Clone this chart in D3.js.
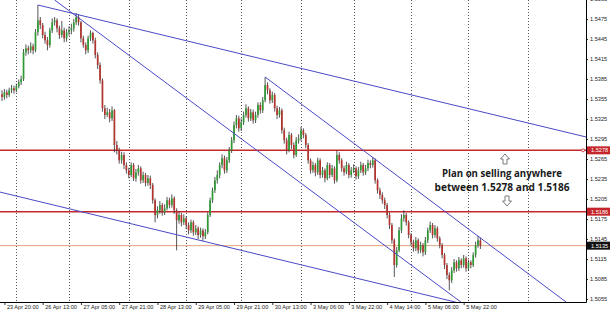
<!DOCTYPE html>
<html>
<head>
<meta charset="utf-8">
<script src="https://cdn.jsdelivr.net/npm/d3@7"></script>
<style>
  html, body { margin: 0; padding: 0; background: #fff; }
  svg { display: block; }
  .axis text { font-family: "Liberation Sans", Arial, sans-serif; font-size: 5.6px; fill: #222; }
  .note { font-family: "Open Sans", sans-serif; font-weight: 700; font-size: 10px; fill: #1a1a1a; }
</style>
</head>
<body>
<svg id="chart" width="610" height="312"></svg>
<script>
// H1 candles, bar index 0 = first bar on screen
const opens = [
  1.5362,1.5358,1.5365,1.5361,1.5368,1.5371,1.5368,1.5374,1.5380,1.5385,
  1.5425,1.5431,1.5428,1.5434,1.5428,1.5455,1.5473,1.5466,1.5451,1.5443,
  1.5436,1.5458,1.5470,1.5473,1.5461,1.5451,1.5458,1.5446,1.5455,1.5458,
  1.5461,1.5470,1.5478,1.5470,1.5446,1.5436,1.5428,1.5446,1.5454,1.5443,
  1.5421,1.5406,1.5383,1.5341,1.5331,1.5335,1.5326,1.5338,1.5286,1.5278,
  1.5263,1.5271,1.5256,1.5248,1.5241,1.5256,1.5236,1.5245,1.5251,1.5233,
  1.5241,1.5229,1.5236,1.5226,1.5203,1.5181,1.5188,1.5196,1.5185,1.5191,
  1.5203,1.5196,1.5206,1.5188,1.5173,1.5181,1.5170,1.5176,1.5166,1.5158,
  1.5170,1.5155,1.5161,1.5151,1.5158,1.5149,1.5155,1.5181,1.5203,1.5218,
  1.5233,1.5241,1.5256,1.5266,1.5248,1.5263,1.5278,1.5293,1.5316,1.5326,
  1.5311,1.5320,1.5331,1.5341,1.5326,1.5335,1.5323,1.5331,1.5346,1.5338,
  1.5353,1.5376,1.5368,1.5353,1.5361,1.5341,1.5331,1.5338,1.5308,1.5293,
  1.5278,1.5301,1.5286,1.5271,1.5293,1.5296,1.5308,1.5301,1.5286,1.5263,
  1.5248,1.5256,1.5245,1.5263,1.5241,1.5248,1.5236,1.5256,1.5241,1.5251,
  1.5233,1.5271,1.5263,1.5251,1.5245,1.5256,1.5241,1.5248,1.5251,1.5239,
  1.5248,1.5256,1.5245,1.5251,1.5259,1.5256,1.5263,1.5233,1.5218,1.5211,
  1.5203,1.5196,1.5181,1.5166,1.5143,1.5106,1.5128,1.5158,1.5176,1.5181,
  1.5170,1.5151,1.5140,1.5131,1.5143,1.5128,1.5136,1.5125,1.5143,1.5158,
  1.5166,1.5151,1.5161,1.5146,1.5136,1.5121,1.5106,1.5091,1.5083,1.5098,
  1.5110,1.5101,1.5113,1.5106,1.5116,1.5101,1.5110,1.5106,1.5121,1.5136,
  1.5143
];
const highs = [
  1.5368,1.5370,1.5369,1.5372,1.5376,1.5375,1.5378,1.5384,1.5390,1.5430,
  1.5437,1.5435,1.5440,1.5438,1.5460,1.5496,1.5478,1.5469,1.5456,1.5448,
  1.5462,1.5476,1.5478,1.5476,1.5465,1.5472,1.5462,1.5460,1.5464,1.5468,
  1.5475,1.5484,1.5482,1.5472,1.5450,1.5440,1.5450,1.5458,1.5456,1.5447,
  1.5425,1.5410,1.5386,1.5346,1.5342,1.5340,1.5344,1.5340,1.5292,1.5282,
  1.5276,1.5275,1.5260,1.5252,1.5260,1.5259,1.5250,1.5256,1.5254,1.5246,
  1.5244,1.5241,1.5240,1.5229,1.5206,1.5194,1.5202,1.5199,1.5197,1.5208,
  1.5207,1.5212,1.5209,1.5191,1.5186,1.5184,1.5182,1.5179,1.5170,1.5174,
  1.5173,1.5166,1.5164,1.5162,1.5161,1.5160,1.5185,1.5207,1.5222,1.5238,
  1.5248,1.5260,1.5272,1.5270,1.5268,1.5283,1.5298,1.5321,1.5331,1.5330,
  1.5326,1.5336,1.5347,1.5344,1.5340,1.5339,1.5336,1.5350,1.5350,1.5358,
  1.5388,1.5380,1.5371,1.5366,1.5364,1.5345,1.5343,1.5341,1.5312,1.5297,
  1.5306,1.5304,1.5290,1.5298,1.5302,1.5313,1.5311,1.5304,1.5289,1.5266,
  1.5261,1.5259,1.5267,1.5266,1.5253,1.5251,1.5260,1.5259,1.5256,1.5254,
  1.5278,1.5275,1.5266,1.5255,1.5261,1.5259,1.5253,1.5257,1.5254,1.5253,
  1.5261,1.5259,1.5256,1.5264,1.5263,1.5268,1.5266,1.5236,1.5222,1.5215,
  1.5207,1.5199,1.5185,1.5169,1.5146,1.5133,1.5163,1.5182,1.5188,1.5184,
  1.5173,1.5154,1.5144,1.5148,1.5146,1.5141,1.5139,1.5148,1.5162,1.5171,
  1.5169,1.5166,1.5164,1.5149,1.5139,1.5124,1.5109,1.5095,1.5103,1.5115,
  1.5113,1.5118,1.5116,1.5121,1.5119,1.5114,1.5113,1.5125,1.5141,1.5150,
  1.5147
];
const lows = [
  1.5352,1.5354,1.5356,1.5358,1.5364,1.5363,1.5365,1.5371,1.5376,1.5382,
  1.5420,1.5422,1.5424,1.5422,1.5425,1.5450,1.5460,1.5446,1.5438,1.5428,
  1.5432,1.5454,1.5465,1.5455,1.5445,1.5447,1.5440,1.5441,1.5450,1.5452,
  1.5456,1.5466,1.5465,1.5440,1.5432,1.5422,1.5424,1.5442,1.5438,1.5416,
  1.5400,1.5378,1.5336,1.5325,1.5328,1.5320,1.5322,1.5275,1.5272,1.5258,
  1.5258,1.5250,1.5243,1.5236,1.5238,1.5232,1.5231,1.5240,1.5228,1.5229,
  1.5224,1.5225,1.5220,1.5198,1.5170,1.5176,1.5183,1.5180,1.5181,1.5188,
  1.5191,1.5192,1.5183,1.5128,1.5168,1.5164,1.5166,1.5160,1.5152,1.5154,
  1.5150,1.5151,1.5145,1.5147,1.5142,1.5145,1.5152,1.5178,1.5199,1.5214,
  1.5228,1.5236,1.5251,1.5243,1.5244,1.5259,1.5274,1.5289,1.5311,1.5306,
  1.5307,1.5316,1.5327,1.5321,1.5322,1.5318,1.5319,1.5327,1.5333,1.5334,
  1.5350,1.5362,1.5348,1.5349,1.5336,1.5325,1.5327,1.5303,1.5288,1.5272,
  1.5275,1.5280,1.5266,1.5268,1.5288,1.5292,1.5296,1.5281,1.5258,1.5243,
  1.5244,1.5239,1.5241,1.5236,1.5237,1.5230,1.5233,1.5236,1.5238,1.5228,
  1.5230,1.5258,1.5246,1.5240,1.5242,1.5236,1.5237,1.5244,1.5234,1.5235,
  1.5244,1.5240,1.5241,1.5247,1.5251,1.5252,1.5228,1.5213,1.5205,1.5198,
  1.5190,1.5176,1.5160,1.5138,1.5088,1.5102,1.5125,1.5154,1.5171,1.5165,
  1.5146,1.5135,1.5126,1.5127,1.5123,1.5124,1.5119,1.5121,1.5139,1.5154,
  1.5146,1.5147,1.5141,1.5131,1.5116,1.5100,1.5085,1.5068,1.5079,1.5094,
  1.5096,1.5097,1.5101,1.5102,1.5096,1.5097,1.5101,1.5103,1.5117,1.5132,
  1.5130
];
const closes = [
  1.5358,1.5365,1.5361,1.5368,1.5371,1.5368,1.5374,1.5380,1.5385,1.5425,
  1.5431,1.5428,1.5434,1.5428,1.5455,1.5473,1.5466,1.5451,1.5443,1.5436,
  1.5458,1.5470,1.5473,1.5461,1.5451,1.5458,1.5446,1.5455,1.5458,1.5461,
  1.5470,1.5478,1.5470,1.5446,1.5436,1.5428,1.5446,1.5454,1.5443,1.5421,
  1.5406,1.5383,1.5341,1.5331,1.5335,1.5326,1.5338,1.5286,1.5278,1.5263,
  1.5271,1.5256,1.5248,1.5241,1.5256,1.5236,1.5245,1.5251,1.5233,1.5241,
  1.5229,1.5236,1.5226,1.5203,1.5181,1.5188,1.5196,1.5185,1.5191,1.5203,
  1.5196,1.5206,1.5188,1.5173,1.5181,1.5170,1.5176,1.5166,1.5158,1.5170,
  1.5155,1.5161,1.5151,1.5158,1.5149,1.5155,1.5181,1.5203,1.5218,1.5233,
  1.5241,1.5256,1.5266,1.5248,1.5263,1.5278,1.5293,1.5316,1.5326,1.5311,
  1.5320,1.5331,1.5341,1.5326,1.5335,1.5323,1.5331,1.5346,1.5338,1.5353,
  1.5376,1.5368,1.5353,1.5361,1.5341,1.5331,1.5338,1.5308,1.5293,1.5278,
  1.5301,1.5286,1.5271,1.5293,1.5296,1.5308,1.5301,1.5286,1.5263,1.5248,
  1.5256,1.5245,1.5263,1.5241,1.5248,1.5236,1.5256,1.5241,1.5251,1.5233,
  1.5271,1.5263,1.5251,1.5245,1.5256,1.5241,1.5248,1.5251,1.5239,1.5248,
  1.5256,1.5245,1.5251,1.5259,1.5256,1.5263,1.5233,1.5218,1.5211,1.5203,
  1.5196,1.5181,1.5166,1.5143,1.5106,1.5128,1.5158,1.5176,1.5181,1.5170,
  1.5151,1.5140,1.5131,1.5143,1.5128,1.5136,1.5125,1.5143,1.5158,1.5166,
  1.5151,1.5161,1.5146,1.5136,1.5121,1.5106,1.5091,1.5083,1.5098,1.5110,
  1.5101,1.5113,1.5106,1.5116,1.5101,1.5110,1.5106,1.5121,1.5136,1.5143,
  1.5135
];

const priceTicks = [1.5505, 1.5475, 1.5445, 1.5415, 1.5385, 1.5355, 1.5325, 1.5295,
                    1.5265, 1.5235, 1.5205, 1.5175, 1.5145, 1.5115, 1.5085, 1.5055];
const timeTickBars = [1, 17, 33, 49, 65, 81, 97, 113, 129, 145, 161, 177, 193];
const timeLabels = ["23 Apr 20:00", "26 Apr 13:00", "27 Apr 05:00", "27 Apr 21:00",
                    "28 Apr 13:00", "29 Apr 05:00", "29 Apr 21:00", "30 Apr 13:00",
                    "3 May 06:00", "3 May 22:00", "4 May 14:00", "5 May 06:00", "5 May 22:00"];
const gridBars = [6, 28, 53, 77, 100, 125, 147, 171, 195, 220];

// support / resistance levels
const levels = [1.5278, 1.5186];
const bidPrice = 1.5135;

// trend lines: [bar, price] -> [bar, price]
const trendLines = [
  [[15, 1.5496], [250, 1.5293]],
  [[22, 1.55035], [192, 1.5050]],
  [[-5, 1.5219], [190, 1.5050]],
  [[110, 1.5388], [236, 1.5050]]
];

const noteLines = ["Plan on selling anywhere", "between 1.5278 and 1.5186"];

const plotW = 586, plotH = 302;

const svg = d3.select("#chart");

const x = d3.scaleLinear().domain([0, 244]).range([2, 2 + 244 * 2.392]);
const y = d3.scaleLinear().domain([1.50505, 1.55035]).range([plotH, 0]);

svg.append("defs").append("clipPath").attr("id", "plotclip")
  .append("rect").attr("x", 0).attr("y", 0).attr("width", plotW).attr("height", plotH);

const plot = svg.append("g").attr("clip-path", "url(#plotclip)");

// vertical dotted separators
plot.selectAll(".vgrid").data(gridBars).enter().append("line")
  .attr("x1", d => Math.round(x(d)) + 0.5).attr("x2", d => Math.round(x(d)) + 0.5)
  .attr("y1", 0).attr("y2", plotH)
  .attr("stroke", "#555").attr("stroke-width", 1).attr("stroke-dasharray", "1,2");

// horizontal levels
plot.append("line")
  .attr("x1", 0).attr("x2", plotW)
  .attr("y1", y(bidPrice)).attr("y2", y(bidPrice))
  .attr("stroke", "#dfa57f").attr("stroke-width", 1);

plot.selectAll(".level").data(levels).enter().append("line")
  .attr("x1", 0).attr("x2", plotW)
  .attr("y1", d => y(d)).attr("y2", d => y(d))
  .attr("stroke", "#c4262b").attr("stroke-width", 1.5);

// candles
const idx = d3.range(opens.length);
plot.selectAll(".wick").data(idx).enter().append("line")
  .attr("x1", i => x(i)).attr("x2", i => x(i))
  .attr("y1", i => y(highs[i])).attr("y2", i => y(lows[i]))
  .attr("stroke", "#2a2a2a").attr("stroke-width", 0.8);

plot.selectAll(".body").data(idx).enter().append("rect")
  .attr("x", i => x(i) - 0.85)
  .attr("width", 1.7)
  .attr("y", i => y(Math.max(opens[i], closes[i])))
  .attr("height", i => Math.max(0.7, Math.abs(y(opens[i]) - y(closes[i]))))
  .attr("fill", i => closes[i] >= opens[i] ? "#2f9a33" : "#b3332e");

// trend lines
const line = d3.line().x(d => x(d[0])).y(d => y(d[1]));
plot.selectAll(".trend").data(trendLines).enter().append("path")
  .attr("d", line)
  .attr("fill", "none")
  .attr("stroke", "#4a4ac8")
  .attr("stroke-width", 1);

// annotation
const note = svg.append("g");
note.selectAll("text").data(noteLines).enter().append("text")
  .attr("class", "note")
  .attr("x", 502)
  .attr("y", (d, i) => 177 + i * 13.5)
  .attr("text-anchor", "middle")
  .attr("textLength", (d, i) => i === 0 ? 120 : 135)
  .attr("lengthAdjust", "spacingAndGlyphs")
  .text(d => d);

function arrow(cx, cy, up) {
  const s = up ? -1 : 1;
  const pts = [
    [cx - 2, cy - 5 * s], [cx + 2, cy - 5 * s], [cx + 2, cy], [cx + 4.5, cy],
    [cx, cy + 5 * s], [cx - 4.5, cy], [cx - 2, cy]
  ];
  note.append("path")
    .attr("d", "M" + pts.map(p => p.join(",")).join("L") + "Z")
    .attr("fill", "#fff").attr("stroke", "#7a7a7a").attr("stroke-width", 1);
}
arrow(505, 159, true);
arrow(507, 201, false);

// axes
const yAxis = d3.axisRight(y).tickValues(priceTicks).tickSize(2).tickFormat(d3.format(".4f"));
svg.append("g").attr("class", "axis").attr("transform", `translate(${plotW},0)`)
  .call(yAxis)
  .call(g => g.select(".domain").remove())
  .call(g => g.selectAll("text").attr("x", 4))
  .call(g => g.selectAll("line").attr("stroke", "#333"));

const xAxis = d3.axisBottom(x).tickValues(timeTickBars).tickSize(3)
  .tickFormat((d, i) => timeLabels[i]);
svg.append("g").attr("class", "axis").attr("transform", `translate(0,${plotH})`)
  .call(xAxis)
  .call(g => g.select(".domain").remove())
  .call(g => g.selectAll("line").attr("stroke", "#333"))
  .call(g => g.selectAll("text").attr("text-anchor", "start").attr("x", 2).attr("y", 3).attr("dy", "0.71em"));

// frame
svg.append("line").attr("x1", plotW + 0.5).attr("x2", plotW + 0.5).attr("y1", 0).attr("y2", plotH + 0.5)
  .attr("stroke", "#000");
svg.append("line").attr("x1", 0).attr("x2", plotW + 0.5).attr("y1", plotH + 0.5).attr("y2", plotH + 0.5)
  .attr("stroke", "#000");

// price tags on right axis
const tags = [
  { p: levels[0], bg: "#c4262b" },
  { p: levels[1], bg: "#c4262b" },
  { p: bidPrice, bg: "#111" }
];
const tag = svg.selectAll(".tag").data(tags).enter().append("g")
  .attr("transform", d => `translate(${plotW + 1},${y(d.p)})`);
tag.append("rect").attr("x", 0).attr("y", -4).attr("width", 23).attr("height", 8)
  .attr("fill", d => d.bg);
tag.append("text").attr("x", 4).attr("y", 0).attr("dy", "0.35em")
  .style("font-family", "'Liberation Sans', Arial, sans-serif").style("font-size", "5.6px")
  .attr("fill", "#fff").text(d => d3.format(".4f")(d.p));

// small handle on the upper level line
svg.append("circle").attr("cx", 583).attr("cy", y(levels[0])).attr("r", 1.5)
  .attr("fill", "#fff").attr("stroke", "#c4262b").attr("stroke-width", 0.8);
</script>
</body>
</html>
